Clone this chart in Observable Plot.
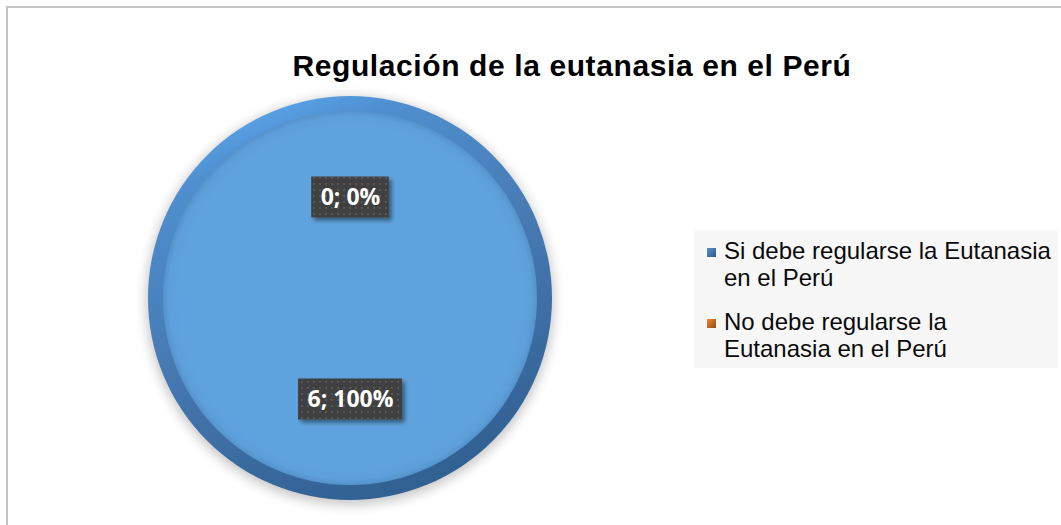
<!DOCTYPE html>
<html>
<head>
<meta charset="utf-8">
<script src="https://cdn.jsdelivr.net/npm/d3@7"></script>
<script src="https://cdn.jsdelivr.net/npm/@observablehq/plot@0.6"></script>
<style>
  body { margin: 0; background: #fff; }
  #wrap { position: relative; width: 1061px; height: 525px; overflow: hidden; background: #fff;
          font-family: "Liberation Sans", Arial, sans-serif; }
  #frame { position: absolute; left: 6px; top: 6px; width: 1200px; height: 700px;
           border-left: 2px solid #c4c4c4; border-top: 2px solid #c4c4c4; }
  #title { position: absolute; left: 0; width: 1144px; top: 51px; text-align: center;
           font-weight: bold; font-size: 30px; line-height: 29px; letter-spacing: 0.6px; color: #000; white-space: nowrap; }
  #chart { position: absolute; left: 120px; top: 68px; }
  #legend { position: absolute; left: 694px; top: 230px; width: 364px; height: 138px; background: #f7f7f7; }
  .item { position: absolute; left: 0; }
  .sw { position: absolute; left: 13px; width: 9px; height: 9px; }
  .lt { position: absolute; left: 30px; font-size: 24px; line-height: 27px; color: #0a0a0a; white-space: nowrap; }
</style>
</head>
<body>
<div id="wrap">
  <div id="frame"></div>
  <div id="title"></div>
  <div id="chart"></div>
  <div id="legend"></div>
</div>
<script>
// ---- data ----
const chartTitle = "Regulación de la eutanasia en el Perú";
const categories = ["Si debe regularse la Eutanasia en el Perú", "No debe regularse la Eutanasia en el Perú"];
const legendLines = [["Si debe regularse la Eutanasia", "en el Perú"], ["No debe regularse la", "Eutanasia en el Perú"]];
const counts = [6, 0];

// ---- style ----
const palette = ["#5fa3de", "#ed7d31"];
const swatchGrad = [["#5a93cf", "#2c5a8a"], ["#f0883a", "#93480f"]];

const total = d3.sum(counts);
const rows = categories.map((c, i) => ({category: c, value: counts[i], color: palette[i]}));
const arcs = d3.pie().sort(null).value(d => d.value)(rows);
const labels = arcs.map(a => {
  const mid = (a.startAngle + a.endAngle) / 2;
  const pct = Math.round(a.data.value / total * 100);
  return {x: 0.5 * Math.sin(mid), y: 0.5 * Math.cos(mid), text: `${a.data.value}; ${pct}%`};
});

const labelFont = "bold 23px 'Open Sans'";
const ctx = document.createElement("canvas").getContext("2d");
ctx.font = labelFont;

function defsMark() {
  const defs = d3.create("svg:defs");
  const rim = defs.append("linearGradient").attr("id", "rimGrad")
    .attr("x1", 0.3).attr("y1", 0.0).attr("x2", 0.7).attr("y2", 1.0);
  rim.append("stop").attr("offset", 0).attr("stop-color", "#5aa6ec");
  rim.append("stop").attr("offset", 0.12).attr("stop-color", "#4f8fcf");
  rim.append("stop").attr("offset", 0.5).attr("stop-color", "#4679b2");
  rim.append("stop").attr("offset", 1).attr("stop-color", "#2f5e8f");
  const inner = defs.append("radialGradient").attr("id", "innerGrad");
  inner.append("stop").attr("offset", 0.9).attr("stop-color", "#5fa3de");
  inner.append("stop").attr("offset", 0.97).attr("stop-color", "#5d9fd9");
  inner.append("stop").attr("offset", 1).attr("stop-color", "#5592cb");
  const blur = defs.append("filter").attr("id", "pieShadow")
    .attr("x", -0.2).attr("y", -0.2).attr("width", 1.4).attr("height", 1.4);
  blur.append("feGaussianBlur").attr("stdDeviation", 6);
  const ds = defs.append("filter").attr("id", "boxShadow")
    .attr("x", -0.2).attr("y", -0.3).attr("width", 1.5).attr("height", 1.7);
  ds.append("feDropShadow").attr("dx", 3).attr("dy", 3).attr("stdDeviation", 2)
    .attr("flood-color", "#000").attr("flood-opacity", 0.45);
  const pat = defs.append("pattern").attr("id", "dots").attr("patternUnits", "userSpaceOnUse")
    .attr("width", 6).attr("height", 6);
  pat.append("rect").attr("width", 6).attr("height", 6).attr("fill", "#3f3f3f");
  pat.append("rect").attr("x", 1).attr("y", 1).attr("width", 2).attr("height", 2).attr("fill", "#565656");
  return defs.node();
}

function pieMark(index, scales) {
  const cx = scales.x(0), cy = scales.y(0);
  const r = scales.x(1) - scales.x(0);
  const g = d3.create("svg:g").attr("transform", `translate(${cx},${cy})`);
  const outer = d3.arc().innerRadius(0).outerRadius(r);
  const innerArc = d3.arc().innerRadius(0).outerRadius(r - 15);
  const shadowArc = d3.arc().innerRadius(0).outerRadius(r + 2);
  for (const a of arcs) {
    if (a.endAngle - a.startAngle <= 0) continue;
    g.append("path").attr("d", shadowArc(a)).attr("fill", "#000").attr("opacity", 0.22)
      .attr("transform", "translate(0,3)").attr("filter", "url(#pieShadow)");
  }
  for (const a of arcs) {
    if (a.endAngle - a.startAngle <= 0) continue;
    const isMain = a.data.color === palette[0];
    g.append("path").attr("d", outer(a)).attr("fill", isMain ? "url(#rimGrad)" : a.data.color);
    g.append("path").attr("d", innerArc(a)).attr("fill", isMain ? "url(#innerGrad)" : a.data.color);
  }
  return g.node();
}

function boxMark(index, scales) {
  const g = d3.create("svg:g");
  for (const l of labels) {
    const w = ctx.measureText(l.text).width + 18;
    const h = 41;
    g.append("rect")
      .attr("x", scales.x(l.x) - w / 2).attr("y", scales.y(l.y) - h / 2)
      .attr("width", w).attr("height", h)
      .attr("fill", "url(#dots)").attr("filter", "url(#boxShadow)");
  }
  return g.node();
}

const plot = Plot.plot({
  width: 460, height: 460,
  marginLeft: 28, marginRight: 28, marginTop: 28, marginBottom: 28,
  x: {domain: [-1, 1], axis: null},
  y: {domain: [-1, 1], axis: null},
  style: {background: "transparent", overflow: "visible"},
  marks: [
    defsMark,
    pieMark,
    boxMark,
    Plot.text(labels, {x: "x", y: "y", text: "text", fill: "#ffffff",
      fontFamily: "Open Sans", fontWeight: "bold", fontSize: 23, dy: 0})
  ]
});
document.getElementById("chart").append(plot);

document.getElementById("title").textContent = chartTitle;

const legend = d3.select("#legend");
const itemTops = [7, 78];
legendLines.forEach((lines, i) => {
  const it = legend.append("div").attr("class", "item").style("top", itemTops[i] + "px");
  it.append("div").attr("class", "sw")
    .style("top", "11px")
    .style("background", `linear-gradient(135deg, ${swatchGrad[i][0]}, ${swatchGrad[i][1]})`)
    .attr("title", categories[i]);
  it.append("div").attr("class", "lt").html(lines.join("<br>"));
});
</script>
</body>
</html>
